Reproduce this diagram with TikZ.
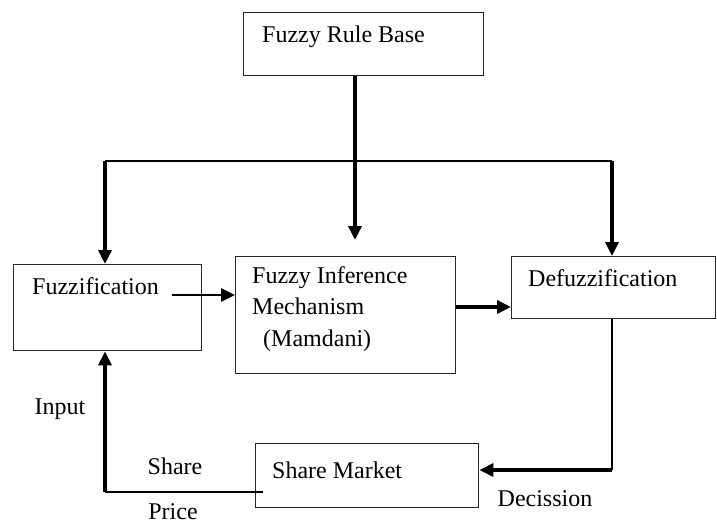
\documentclass[tikz,border=0pt]{standalone}
\usepackage{fontspec}
\setmainfont{Liberation Serif}
\usetikzlibrary{arrows.meta,positioning}
\begin{document}
\begin{tikzpicture}[x=1pt,y=-1pt,
  box/.style={draw=black!85,line width=1.4pt,rectangle,inner sep=0pt,anchor=north west},
  txt/.style={inner sep=0pt,anchor=west,text height=0.7em,text depth=0.2em,font=\fontsize{24}{31}\selectfont},
  thin/.style={line width=1.4pt},
  thk/.style={line width=4pt,-{Triangle[length=14pt,width=13pt]}},
  mid/.style={line width=2.8pt,-{Triangle[length=14pt,width=13pt]}}]
\useasboundingbox (0,0) rectangle (717,524);
% boxes
\node[box,minimum width=240pt,minimum height=63pt] (frb) at (243,12) {};
\node[box,minimum width=188pt,minimum height=86pt] (fuz) at (13,264) {};
\node[box,minimum width=220pt,minimum height=117pt] (fim) at (235,256) {};
\node[box,minimum width=204pt,minimum height=62pt] (def) at (511,256) {};
\node[box,minimum width=223pt,minimum height=64pt] (sm) at (255,443) {};
% texts
\node[txt] (frbt) at (262,40) {Fuzzy Rule Base};
\node[txt] (fuzt) at (32,292) {Fuzzification};
\node[txt] (fim1) at (252,281) {Fuzzy Inference};
\node[txt] (fim2) at (252,312) {Mechanism};
\node[txt] (fim3) at (263,344) {(Mamdani)};
\node[txt] (deft) at (528,284) {Defuzzification};
\node[txt] (smt) at (272,476) {Share Market};
\node[txt,anchor=center] (inp) at (60,412) {Input};
\node[txt,anchor=center] (shr) at (175,472) {Share};
\node[txt,anchor=center] (prc) at (173,517) {Price};
\node[txt,anchor=center] (dec) at (545,504) {Decission};
% coordinates of the distribution line
\coordinate (tl) at (105,161);
\coordinate (tm) at (355,161);
\coordinate (tr) at (612,161);
\coordinate (br) at (612,470);
\coordinate (bl) at (105,492);
\coordinate (sml) at (263,492);
% connectors
\draw[thin] (tl) -- (tr);
\draw[thk] (tl) -- (fuz.north -| tl);
\draw[thk] (tr) -- (def.north -| tr);
\draw[thk,shorten >=16pt] (frb.south -| tm) -- (fim.north -| tm);
\coordinate (fa) at (172,295);
\draw[mid] (fa) -- (fim.west |- fa);
\draw[thk] (fim.east |- 0,307) -- (def.west |- 0,307);
\draw[thin] (def.south -| br) -- (br);
\draw[thk] (br) -- (sm.east |- br);
\draw[thin] (sml) -- (bl);
\draw[thk] (bl) -- (fuz.south -| bl);
\end{tikzpicture}
\end{document}
